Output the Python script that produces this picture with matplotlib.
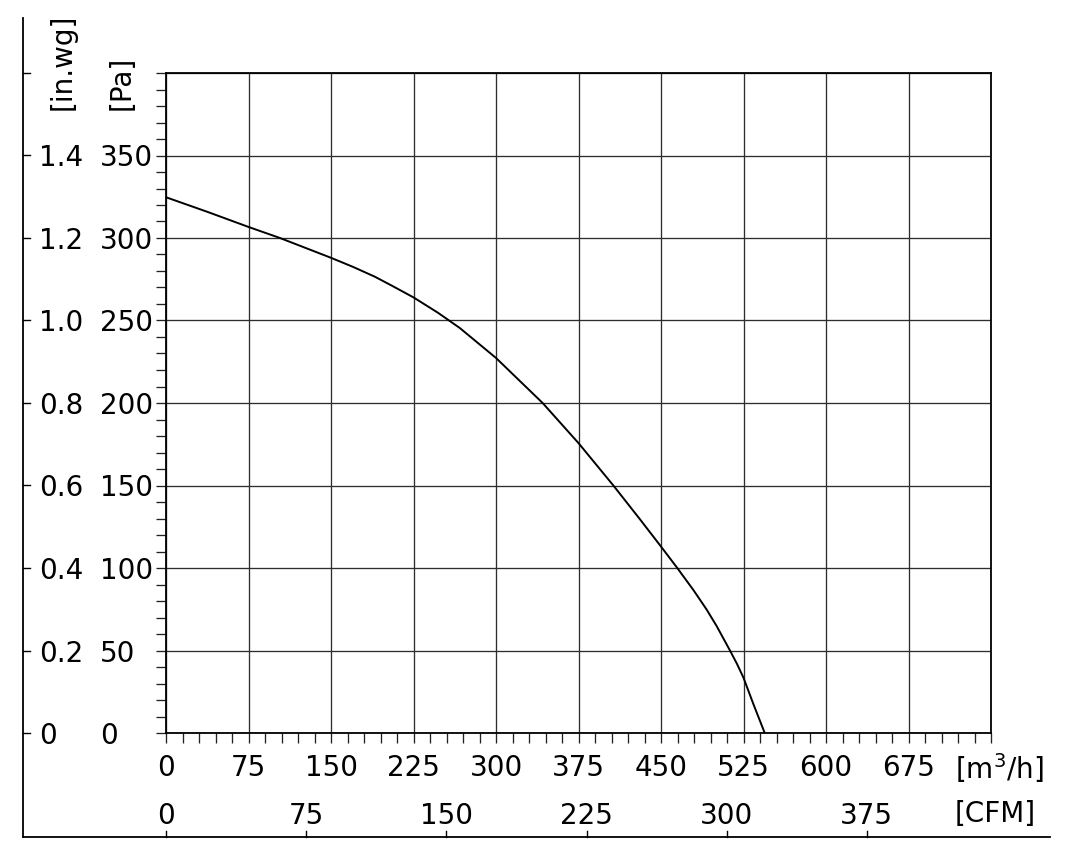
import matplotlib
matplotlib.use("Agg")
import matplotlib.pyplot as plt
import matplotlib.transforms as mtransforms
from matplotlib.lines import Line2D

# ---- data ----
flow_m3h = [0, 37, 75, 103.6, 150, 170, 190, 207, 225, 247, 267, 300, 342.4, 375, 406.7,
            430.9, 450, 464.8, 479.4, 491.5, 500.6, 512.7, 519, 525, 534, 544.3]
pressure_pa = [324.7, 316, 306.7, 300, 288, 282.5, 276.5, 270.5, 264, 254.8, 245.5, 227.3, 200, 175.7, 150,
               129.5, 113, 100, 86.7, 74.8, 64.8, 50, 42, 33.5, 17.5, 0]

x_ticks_m3h = [0, 75, 150, 225, 300, 375, 450, 525, 600, 675]
x_ticks_cfm = [0, 75, 150, 225, 300, 375]
y_ticks_pa = [0, 50, 100, 150, 200, 250, 300, 350]
y_ticks_inwg = ["0", "0.2", "0.4", "0.6", "0.8", "1.0", "1.2", "1.4"]
CFM_TO_M3H = 1.699
PA_PER_INWG = 250.0

W, H = 1074, 859
fig = plt.figure(figsize=(W / 100, H / 100), dpi=100)
fig.patch.set_facecolor("white")

def fx(px):
    return px / W

def fy(py):
    return 1 - py / H

ax = fig.add_axes([fx(166), fy(733), (991 - 166) / W, (733 - 73) / H])
ax.set_xlim(0, 750)
ax.set_ylim(0, 400)

# grid
ax.set_xticks(range(0, 751, 75))
ax.set_yticks(range(0, 401, 50))
ax.grid(True, color="#2e2e2e", linewidth=0.95)
ax.set_axisbelow(True)
ax.set_xticks(range(0, 751, 15), minor=True)
ax.set_yticks(range(0, 401, 10), minor=True)
ax.tick_params(axis="both", which="both", direction="out", length=7.2, width=0.95,
               color="#222222", labelbottom=False, labelleft=False)
for s in ax.spines.values():
    s.set_color("black")
    s.set_linewidth(1.3)

# curve
ax.plot(flow_m3h, pressure_pa, color="black", linewidth=1.4, solid_joinstyle="round")

fs = 20
fam = "DejaVu Sans"

# y labels (Pa and in.wg)
ty = mtransforms.blended_transform_factory(fig.transFigure, ax.transData)
for v in y_ticks_pa:
    fig.text(fx(100), v, str(v), transform=ty, ha="left", va="center_baseline",
             fontsize=fs, family=fam)
for lab in y_ticks_inwg:
    v = float(lab) * PA_PER_INWG
    fig.text(fx(39), v, lab, transform=ty, ha="left", va="center_baseline",
             fontsize=fs, family=fam)

# in.wg axis line and ticks
fig.add_artist(Line2D([fx(23), fx(23)], [fy(18), fy(837)], color="black",
                      linewidth=1.3, transform=fig.transFigure))
for i in range(0, 9):
    v = i * 0.2 * PA_PER_INWG
    fig.add_artist(Line2D([fx(23), fx(30)], [v, v], color="black",
                          linewidth=1.0, transform=ty))

fig.text(fx(63), fy(110), "[in.wg]", rotation=90, ha="center", va="bottom",
         fontsize=fs, family=fam)
fig.text(fx(122), fy(110), "[Pa]", rotation=90, ha="center", va="bottom",
         fontsize=fs, family=fam)

# x labels (m3/h)
tx = mtransforms.blended_transform_factory(ax.transData, fig.transFigure)
for v in x_ticks_m3h:
    fig.text(v, fy(765), str(v), transform=tx, ha="center", va="center_baseline",
             fontsize=fs, family=fam)
fig.text(fx(955), fy(765), "[m$^3$/h]", ha="left", va="center_baseline",
         fontsize=fs, family=fam)

# CFM axis
fig.add_artist(Line2D([fx(23), fx(1050)], [fy(837), fy(837)], color="black",
                      linewidth=1.3, transform=fig.transFigure))
for v in x_ticks_cfm:
    xm = v * CFM_TO_M3H
    fig.add_artist(Line2D([xm, xm], [fy(837), fy(831)], color="black",
                          linewidth=1.0, transform=tx))
    fig.text(xm, fy(813), str(v), transform=tx, ha="center", va="center_baseline",
             fontsize=fs, family=fam)
fig.text(fx(955), fy(811), "[CFM]", ha="left", va="center_baseline",
         fontsize=fs, family=fam)

fig.savefig("out.png", dpi=100, facecolor="white")
